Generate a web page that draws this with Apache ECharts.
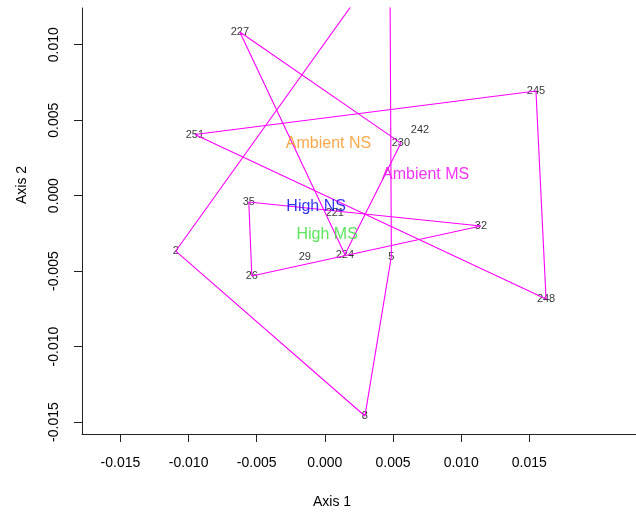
<!DOCTYPE html>
<html><head><meta charset="utf-8">
<script src="https://cdn.jsdelivr.net/npm/echarts@6/dist/echarts.min.js"></script>
<style>html,body{margin:0;padding:0;background:#fff}#c{width:636px;height:516px}</style>
</head><body><div id="c"></div>
<script>
// Site scores (Axis 1, Axis 2)
const siteLabels = ['227','230','224','221','251','245','248','242','35','32','26','29','2','','5','8'];
const axis1 = [-0.00624, 0.00558, 0.00147, 0.00073, -0.00954, 0.01549, 0.01623, 0.00698, -0.00558, 0.01145, -0.00536, -0.00147, -0.01094, 0.00477, 0.00488, 0.00294];
const axis2 = [0.01084, 0.00348, -0.00390, -0.00115, 0.00405, 0.00693, -0.00685, 0.00435, -0.00042, -0.00201, -0.00532, -0.00407, -0.00367, 0.01614, -0.00403, -0.01460];

// Groups and their hull vertices (indices into the site arrays)
const groupNames = ['Ambient NS', 'Ambient MS', 'High MS', 'High NS'];
const hullAmbientNS = [0, 1, 2];
const hullAmbientMS = [4, 5, 6];
const hullHighMS = [8, 9, 10];
const hullHighNS = [12, 13, 14, 15];
const hulls = [hullAmbientNS, hullAmbientMS, hullHighMS, hullHighNS];
const groupColors = ['#F7941D', '#EE00EE', '#33E033', '#0000EE'];

const xTicks = [-0.015, -0.010, -0.005, 0.000, 0.005, 0.010, 0.015];
const yTicks = [-0.015, -0.010, -0.005, 0.000, 0.005, 0.010];

function hullCentroid(idx) {
  let A = 0, cx = 0, cy = 0;
  for (let i = 0; i < idx.length; i++) {
    const a = idx[i], b = idx[(i + 1) % idx.length];
    const x0 = axis1[a], y0 = axis2[a], x1 = axis1[b], y1 = axis2[b];
    const cr = x0 * y1 - x1 * y0;
    A += cr; cx += (x0 + x1) * cr; cy += (y0 + y1) * cr;
  }
  A /= 2;
  return [cx / (6 * A), cy / (6 * A)];
}

const FONT = '"Liberation Sans", Arial, Helvetica, sans-serif';
const chart = echarts.init(document.getElementById('c'), null, {renderer: 'canvas'});

const series = [];
series.push({
  type: 'scatter',
  symbolSize: 1,
  itemStyle: {color: 'rgba(0,0,0,0)'},
  silent: true,
  z: 2,
  data: siteLabels.map((s, i) => ({value: [axis1[i], axis2[i]], name: s})),
  label: {show: true, position: 'inside', formatter: p => p.name, color: '#000', fontSize: 11, fontFamily: FONT}
});
hulls.forEach((h, gi) => {
  const pts = h.concat([h[0]]).map(i => [axis1[i], axis2[i]]);
  series.push({
    type: 'line',
    name: groupNames[gi],
    data: pts,
    showSymbol: false,
    symbol: 'none',
    silent: true,
    z: 3,
    lineStyle: {color: '#FF00FF', width: 1.1},
    clip: true
  });
});
series.push({
  type: 'scatter',
  symbolSize: 1,
  itemStyle: {color: 'rgba(0,0,0,0)'},
  silent: true,
  z: 4,
  data: hulls.map((h, gi) => ({
    value: hullCentroid(h),
    name: groupNames[gi],
    label: {color: groupColors[gi]}
  })),
  label: {show: true, position: 'inside', formatter: p => p.name, fontSize: 16, fontFamily: FONT}
});

const axisCommon = {
  type: 'value',
  axisLine: {show: true, onZero: false, lineStyle: {color: '#222', width: 1}},
  splitLine: {show: false},
};

chart.setOption({
  animation: false,
  backgroundColor: '#fff',
  grid: {left: 82, top: 8, right: 0, bottom: 82, containLabel: false, outerBoundsMode: 'none'},
  xAxis: Object.assign({}, axisCommon, {
    min: -0.01782, max: 0.02283,
    axisTick: {show: true, length: 8, customValues: xTicks, lineStyle: {color: '#222'}},
    axisLabel: {customValues: xTicks, formatter: v => Number(v).toFixed(3), fontSize: 14, color: '#000', fontFamily: FONT, margin: 22}
  }),
  yAxis: Object.assign({}, axisCommon, {
    min: -0.01579, max: 0.01243,
    axisTick: {show: true, length: 8, customValues: yTicks, lineStyle: {color: '#222'}},
    axisLabel: {customValues: yTicks, formatter: v => Number(v).toFixed(3), fontSize: 14, color: '#000', fontFamily: FONT, rotate: 90, margin: 21}
  }),
  graphic: [
    {type: 'text', x: 332, y: 502, style: {text: 'Axis 1', font: '14px ' + FONT, fill: '#000', textAlign: 'center', textVerticalAlign: 'middle'}},
    {type: 'text', x: 22, y: 185, rotation: Math.PI / 2, style: {text: 'Axis 2', font: '14px ' + FONT, fill: '#000', textAlign: 'center', textVerticalAlign: 'middle'}}
  ],
  series: series
});
</script>
</body></html>
